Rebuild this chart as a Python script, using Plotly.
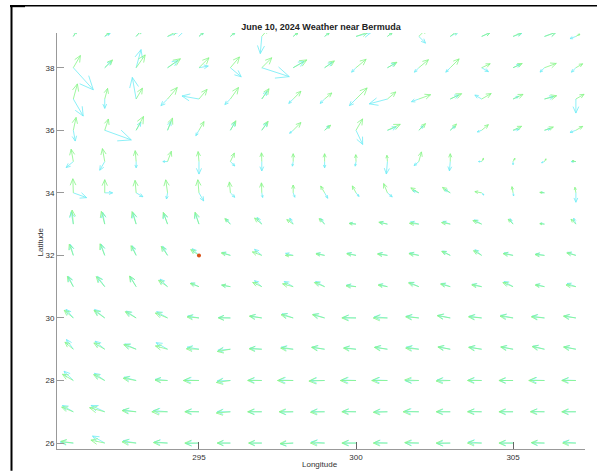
import numpy as np
import plotly.graph_objects as go
import plotly.figure_factory as ff

# grid
lons = list(range(291, 308))   # 17 columns, degrees east
lats = list(range(26, 40))     # 14 rows, bottom (26) to top (39)

# green vectors: direction (deg, counter-clockwise from east) and length (deg), row per latitude
green_ang = [
    [172, 168, 175, 178, 180, 180, 180, 182, 180, 180, 180, 178, 180, 180, 180, 178, 180],  # 26
    [158, 165, 175, 180, 180, 185, 180, 180, 182, 180, 182, 180, 180, 180, 180, 180, 180],  # 27
    [150, 152, 170, 178, 180, 188, 180, 180, 182, 180, 180, 178, 182, 180, 180, 180, 180],  # 28
    [140, 150, 160, 165, 178, 190, 178, 175, 172, 175, 172, 175, 170, 172, 170, 168, 170],  # 29
    [140, 145, 150, 158, 175, 180, 172, 165, 165, 180, 180, 175, 170, 175, 172, 175, 172],  # 30
    [120, 130, 122, 145, 160, 170, 155, 165, 158, 175, 170, 160, 165, 170, 158, 170, 170],  # 31
    [110, 112, 118, 125, 145, 165, 160, 180, 170, 170, 172, 170, 155, 150, 170, 175, 165],  # 32
    [95, 105, 108, 110, 108, 135, 140, 145, 135, 175, 168, 175, 170, 158, 135, 175, 135],   # 33
    [92, 90, 95, 98, 95, 95, 92, 90, 120, 118, 112, 148, 145, 170, 100, 175, 100],          # 34
    [100, 100, 95, 70, 95, 65, 92, 90, 90, 92, 95, 75, 90, 60, 60, 60, 170],                # 35
    [78, 72, 62, 68, 60, 60, 55, 45, 40, 60, 25, 45, 45, 40, 25, 20, 30],                   # 36
    [75, 75, 60, 50, 50, 55, 55, 45, 40, 45, 40, 20, 25, 30, 25, 15, 30],                   # 37
    [60, 45, 55, 35, 45, 50, 45, 30, 35, 40, 30, 40, 45, 25, 25, 20, 30],                   # 38
    [60, 45, 50, 30, 45, 45, 50, 40, 40, 20, 40, 45, 40, 25, 25, 20, 30],                   # 39
]
green_len = [
    [0.40, 0.45, 0.45, 0.45, 0.45, 0.42, 0.42, 0.42, 0.45, 0.45, 0.45, 0.45, 0.45, 0.45, 0.45, 0.42, 0.42],
    [0.40, 0.50, 0.45, 0.50, 0.45, 0.45, 0.45, 0.45, 0.45, 0.45, 0.45, 0.50, 0.45, 0.45, 0.45, 0.45, 0.45],
    [0.40, 0.40, 0.42, 0.40, 0.50, 0.45, 0.45, 0.50, 0.50, 0.50, 0.50, 0.45, 0.45, 0.45, 0.45, 0.50, 0.45],
    [0.35, 0.40, 0.42, 0.40, 0.40, 0.42, 0.40, 0.40, 0.42, 0.40, 0.42, 0.42, 0.40, 0.42, 0.40, 0.40, 0.40],
    [0.38, 0.42, 0.40, 0.42, 0.38, 0.38, 0.40, 0.40, 0.40, 0.45, 0.45, 0.42, 0.42, 0.42, 0.42, 0.42, 0.40],
    [0.38, 0.42, 0.40, 0.35, 0.30, 0.28, 0.32, 0.35, 0.35, 0.32, 0.30, 0.35, 0.32, 0.32, 0.35, 0.30, 0.32],
    [0.38, 0.40, 0.35, 0.35, 0.32, 0.30, 0.32, 0.25, 0.28, 0.30, 0.32, 0.32, 0.30, 0.30, 0.32, 0.30, 0.30],
    [0.45, 0.42, 0.42, 0.40, 0.40, 0.25, 0.30, 0.25, 0.25, 0.22, 0.28, 0.30, 0.28, 0.30, 0.22, 0.15, 0.22],
    [0.45, 0.42, 0.40, 0.42, 0.42, 0.35, 0.32, 0.25, 0.25, 0.25, 0.32, 0.30, 0.30, 0.22, 0.20, 0.15, 0.18],
    [0.40, 0.42, 0.35, 0.35, 0.32, 0.30, 0.28, 0.25, 0.25, 0.22, 0.20, 0.32, 0.25, 0.12, 0.12, 0.10, 0.12],
    [0.42, 0.38, 0.50, 0.42, 0.32, 0.35, 0.35, 0.35, 0.25, 0.42, 0.45, 0.30, 0.28, 0.28, 0.30, 0.30, 0.25],
    [0.50, 0.35, 0.40, 0.48, 0.40, 0.45, 0.40, 0.35, 0.30, 0.50, 0.35, 0.40, 0.40, 0.35, 0.35, 0.40, 0.30],
    [0.45, 0.35, 0.50, 0.50, 0.45, 0.45, 0.45, 0.50, 0.38, 0.42, 0.35, 0.40, 0.40, 0.30, 0.32, 0.40, 0.25],
    [0.20, 0.20, 0.25, 0.35, 0.20, 0.20, 0.30, 0.20, 0.20, 0.40, 0.20, 0.35, 0.30, 0.30, 0.30, 0.40, 0.15],
]

# cyan vectors
cyan_ang = [
    [175, 150, 170, 175, 182, 180, 180, 185, 175, 180, 178, 180, 182, 175, 180, 180, 175],
    [150, 155, 172, 175, 178, 180, 180, 182, 178, 178, 180, 178, 180, 178, 180, 178, 180],
    [135, 145, 165, 175, 178, 182, 178, 178, 180, 178, 178, 182, 178, 178, 180, 178, 178],
    [125, 140, 155, 150, 170, 185, 175, 170, 170, 172, 170, 170, 168, 170, 168, 165, 168],
    [130, 140, 145, 150, 170, 178, 170, 160, 162, 178, 175, 172, 168, 172, 168, 172, 170],
    [115, 125, 120, 135, 155, 170, 140, 150, 150, 170, 165, 155, 160, 165, 150, 165, 160],
    [105, 108, 112, 118, 135, 160, 140, 165, 165, 165, 168, 165, 150, 140, 165, 170, 160],
    [100, 100, 105, 110, 110, 130, 125, 120, 125, 170, 165, 165, 160, 150, 120, 170, 110],
    [-20, 0, -30, -100, -60, -45, -80, -70, -60, -50, -40, 160, 150, -45, -80, 170, -90],
    [220, 240, 270, 180, 270, -45, 270, 260, 270, 260, 265, 220, 265, 180, 270, 200, 180],
    [-80, -20, 60, 70, 240, 60, 55, 220, 45, -65, 20, 45, 40, 200, 10, 15, 200],
    [-60, 270, 100, 225, 170, 225, 55, 225, 225, 225, 195, 200, 25, 150, 25, 15, 270],
    [-48, 45, 75, 35, 10, -40, -18, 30, 35, 225, 30, 225, 225, -30, 25, 225, 225],
    [60, 30, 50, 20, 40, 40, 265, 40, 40, 15, 40, -45, 30, 25, 20, 20, 200],
]
cyan_len = [
    [0.42, 0.45, 0.42, 0.42, 0.42, 0.40, 0.40, 0.40, 0.42, 0.42, 0.42, 0.42, 0.42, 0.42, 0.42, 0.40, 0.40],
    [0.40, 0.48, 0.42, 0.45, 0.42, 0.42, 0.42, 0.42, 0.42, 0.42, 0.42, 0.45, 0.42, 0.42, 0.42, 0.42, 0.42],
    [0.42, 0.40, 0.40, 0.40, 0.45, 0.42, 0.42, 0.45, 0.45, 0.45, 0.45, 0.42, 0.42, 0.42, 0.42, 0.45, 0.42],
    [0.38, 0.40, 0.40, 0.42, 0.38, 0.40, 0.38, 0.38, 0.40, 0.38, 0.40, 0.40, 0.38, 0.40, 0.38, 0.38, 0.38],
    [0.36, 0.42, 0.38, 0.40, 0.36, 0.38, 0.38, 0.38, 0.38, 0.42, 0.42, 0.40, 0.40, 0.40, 0.40, 0.40, 0.38],
    [0.36, 0.40, 0.38, 0.34, 0.28, 0.28, 0.30, 0.33, 0.33, 0.30, 0.28, 0.33, 0.30, 0.30, 0.33, 0.28, 0.30],
    [0.36, 0.38, 0.33, 0.33, 0.30, 0.28, 0.30, 0.25, 0.26, 0.28, 0.30, 0.30, 0.28, 0.28, 0.30, 0.28, 0.28],
    [0.40, 0.38, 0.38, 0.36, 0.36, 0.22, 0.26, 0.22, 0.22, 0.20, 0.25, 0.27, 0.25, 0.27, 0.20, 0.14, 0.20],
    [0.45, 0.25, 0.25, 0.20, 0.30, 0.20, 0.15, 0.15, 0.20, 0.15, 0.20, 0.20, 0.20, 0.10, 0.10, 0.10, 0.30],
    [0.30, 0.32, 0.20, 0.15, 0.40, 0.20, 0.30, 0.15, 0.20, 0.15, 0.40, 0.20, 0.30, 0.10, 0.10, 0.10, 0.15],
    [0.35, 0.90, 0.30, 0.30, 0.20, 0.30, 0.30, 0.15, 0.20, 0.50, 0.30, 0.20, 0.20, 0.15, 0.20, 0.20, 0.20],
    [0.63, 0.30, 0.70, 0.30, 0.55, 0.25, 0.30, 0.20, 0.20, 0.30, 0.60, 0.25, 0.30, 0.25, 0.20, 0.30, 0.45],
    [0.95, 0.30, 0.60, 0.40, 0.30, 0.45, 0.92, 0.40, 0.30, 0.20, 0.30, 0.20, 0.20, 0.25, 0.25, 0.20, 0.20],
    [0.20, 0.20, 0.30, 0.60, 0.20, 0.20, 0.55, 0.20, 0.20, 0.50, 0.20, 0.30, 0.30, 0.30, 0.30, 0.40, 0.20],
]

bermuda_lon = [295]
bermuda_lat = [32]

x_ticks = [295, 300, 305]
y_ticks = [26, 28, 30, 32, 34, 36, 38]


def to_uv(ang, length):
    a = np.radians(np.array(ang, dtype=float))
    L = np.array(length, dtype=float)
    return (L * np.cos(a)).flatten().tolist(), (L * np.sin(a)).flatten().tolist()


LON, LAT = np.meshgrid(lons, lats)
xs = LON.flatten().astype(float).tolist()
ys = LAT.flatten().astype(float).tolist()

uc, vc = to_uv(cyan_ang, cyan_len)
ug, vg = to_uv(green_ang, green_len)

q_cyan = ff.create_quiver(xs, ys, uc, vc, scale=1, arrow_scale=0.5, angle=np.pi / 7.5,
                          line=dict(color="rgb(110,236,245)", width=0.8), hoverinfo="skip",
                          showlegend=False)
q_green = ff.create_quiver(xs, ys, ug, vg, scale=1, arrow_scale=0.5, angle=np.pi / 7.5,
                           line=dict(color="rgb(135,245,135)", width=0.8), hoverinfo="skip",
                           showlegend=False)

fig = go.Figure()
fig.add_trace(q_cyan.data[0])
fig.add_trace(q_green.data[0])
fig.add_trace(go.Scatter(x=bermuda_lon, y=bermuda_lat, mode="markers",
                         marker=dict(color="#D95319", size=4), showlegend=False))

W, H = 597, 474
L_M, R_M, T_M, B_M = 57, 12, 33, 22
PW, PH = W - L_M - R_M, H - T_M - B_M

axis_font = dict(family="Liberation Sans, Arial, sans-serif", size=8, color="#333")

fig.update_layout(
    width=W, height=H,
    margin=dict(l=L_M, r=R_M, t=T_M, b=B_M, pad=0),
    paper_bgcolor="white", plot_bgcolor="white",
    showlegend=False,
    title=dict(text="<b>June 10, 2024 Weather near Bermuda</b>",
               x=(L_M + PW / 2) / W, xanchor="center",
               y=1 - 27 / H, yanchor="middle",
               font=dict(family="Liberation Sans, Arial, sans-serif", size=9, color="#222")),
    xaxis=dict(range=[290.48, 307.29], tickvals=x_ticks, showgrid=False, zeroline=False,
               showline=True, linecolor="#999", linewidth=1, mirror=False,
               ticks="inside", ticklen=7, tickcolor="#666", tickfont=axis_font),
    yaxis=dict(range=[25.81, 39.11], tickvals=y_ticks, showgrid=False, zeroline=False,
               showline=True, linecolor="#999", linewidth=1, mirror=False,
               ticks="inside", ticklen=7, tickcolor="#999", tickfont=axis_font),
    annotations=[
        dict(text="Longitude", xref="paper", yref="paper",
             x=(320 - L_M) / PW, y=-(467.5 - (T_M + PH)) / PH,
             xanchor="center", yanchor="middle", showarrow=False,
             font=dict(family="Liberation Sans, Arial, sans-serif", size=8, color="#333")),
        dict(text="Latitude", xref="paper", yref="paper", textangle=-90,
             x=(40 - L_M) / PW, y=(T_M + PH - 244) / PH,
             xanchor="center", yanchor="middle", showarrow=False,
             font=dict(family="Liberation Sans, Arial, sans-serif", size=8, color="#333")),
    ],
)


def px_x(p):
    return (p - L_M) / PW


def px_y(p):
    return (T_M + PH - p) / PH


# black frame of the screenshot (top and left edges)
fig.add_shape(type="line", xref="paper", yref="paper",
              x0=px_x(10), x1=px_x(597), y0=px_y(5.5), y1=px_y(5.5),
              line=dict(color="black", width=1.5))
fig.add_shape(type="line", xref="paper", yref="paper",
              x0=px_x(11.5), x1=px_x(11.5), y0=px_y(5), y1=px_y(474),
              line=dict(color="black", width=2))
fig.add_shape(type="line", xref="paper", yref="paper",
              x0=px_x(10), x1=px_x(25), y0=px_y(6), y1=px_y(6),
              line=dict(color="black", width=2))

fig.write_html("out.html")
